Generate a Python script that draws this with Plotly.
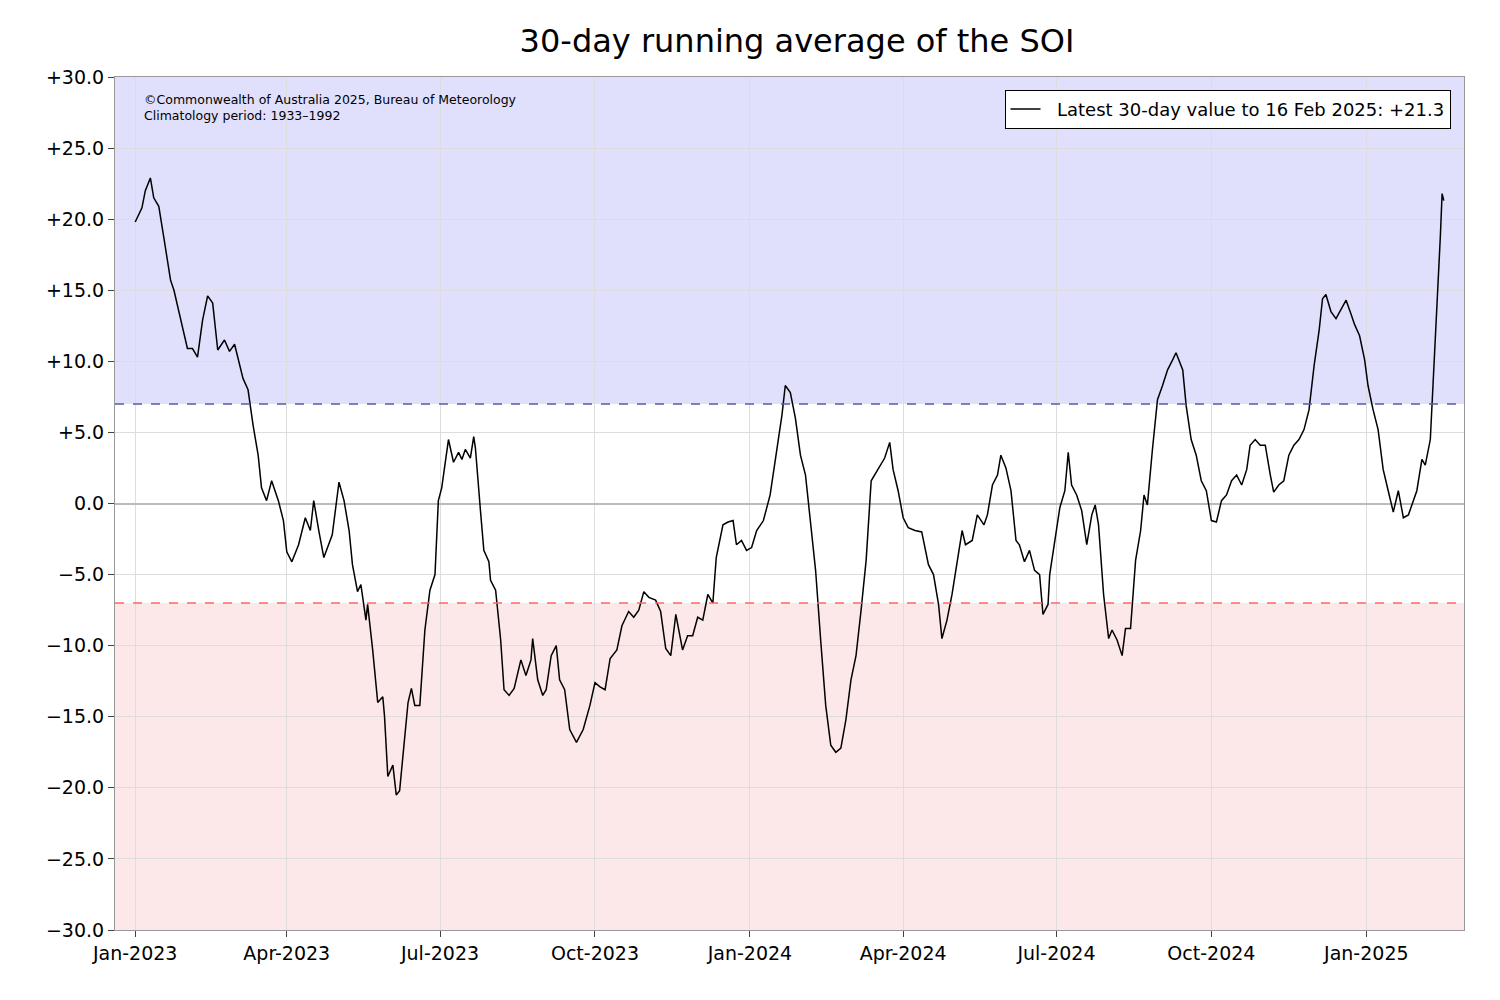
import pandas as pd
import plotly.graph_objects as go

# days since 2023-01-01 and 30-day SOI values
day_offsets = [0, 4, 6, 9, 11, 14, 17, 21, 23, 27, 31, 34, 37, 40, 43, 46, 49, 53, 56, 59,
               64, 67, 70, 73, 75, 78, 81, 85, 88, 90, 93, 97, 101, 104, 106, 109, 112, 117, 121, 124,
               127, 129, 132, 134, 137, 138, 141, 144, 147, 148, 150, 153, 155, 157, 159, 162, 164, 166, 169, 172,
               175, 178, 180, 182, 186, 189, 192, 194, 196, 199, 201, 202, 205, 207, 210, 211, 214, 217, 219, 222,
               225, 229, 232, 235, 236, 239, 242, 244, 247, 250, 252, 255, 258, 262, 266, 270, 273, 276, 279, 282,
               286, 289, 293, 296, 299, 302, 305, 309, 312, 315, 318, 321, 325, 328, 331, 334, 337, 340, 343, 345,
               349, 352, 355, 357, 360, 363, 366, 369, 373, 377, 381, 384, 386, 389, 392, 395, 398, 401, 404, 407,
               410, 413, 416, 419, 422, 425, 428, 431, 434, 437, 440, 442, 445, 448, 450, 453, 456, 459, 463, 467,
               471, 474, 477, 479, 482, 485, 488, 491, 493, 497, 500, 504, 506, 509, 512, 514, 517, 520, 523, 525,
               528, 531, 534, 537, 539, 542, 543, 546, 549, 552, 554, 556, 559, 562, 565, 568, 570, 572, 575, 578,
               580, 583, 586, 588, 591, 594, 597, 599, 601, 604, 607, 610, 613, 616, 618, 622, 624, 627, 630, 633,
               636, 639, 642, 645, 648, 651, 654, 657, 660, 662, 665, 668, 671, 674, 676, 679, 682, 685, 688, 691,
               694, 697, 700, 703, 705, 707, 710, 713, 716, 719, 722, 724, 727, 730, 732, 735, 738, 741, 744, 747,
               750, 753, 756, 758, 761, 764, 766, 769, 771, 774, 775, 776, 777]
soi_values = [19.8, 20.8, 22.0, 22.9, 21.5, 20.9, 18.7, 15.7, 15.0, 13.0, 10.9, 10.9, 10.3, 12.9, 14.6, 14.1, 10.8, 11.5, 10.7, 11.2,
              8.8, 8.0, 5.5, 3.4, 1.1, 0.2, 1.6, 0.2, -1.2, -3.4, -4.1, -2.9, -1.0, -1.9, 0.2, -1.9, -3.8, -2.2, 1.5, 0.2,
              -1.9, -4.3, -6.2, -5.7, -8.2, -7.1, -10.3, -14.0, -13.6, -14.9, -19.2, -18.4, -20.5, -20.2, -17.5, -14.0, -13.0, -14.2, -14.2, -8.9,
              -6.1, -5.0, 0.2, 1.1, 4.5, 2.9, 3.6, 3.1, 3.8, 3.2, 4.7, 3.9, -0.5, -3.3, -4.1, -5.4, -6.1, -9.6, -13.1, -13.5,
              -13.0, -11.0, -12.1, -11.0, -9.5, -12.4, -13.5, -13.1, -10.7, -10.0, -12.4, -13.1, -15.9, -16.8, -15.9, -14.2, -12.6, -12.9, -13.1, -10.9,
              -10.3, -8.6, -7.6, -8.0, -7.5, -6.2, -6.6, -6.8, -7.6, -10.2, -10.7, -7.8, -10.3, -9.3, -9.3, -8.0, -8.2, -6.4, -7.0, -3.8,
              -1.5, -1.3, -1.2, -2.9, -2.6, -3.3, -3.1, -1.9, -1.2, 0.6, 3.8, 6.2, 8.3, 7.8, 6.0, 3.4, 2.0, -1.2, -4.7, -9.6,
              -14.2, -17.0, -17.5, -17.2, -15.2, -12.4, -10.7, -7.5, -4.0, 1.6, 2.2, 2.7, 3.2, 4.3, 2.4, 0.9, -1.0, -1.7, -1.9, -2.0,
              -4.3, -5.0, -7.1, -9.5, -8.2, -6.4, -4.3, -1.9, -2.9, -2.6, -0.8, -1.5, -0.8, 1.3, 2.0, 3.4, 2.5, 0.9, -2.6, -2.9,
              -4.1, -3.3, -4.7, -5.0, -7.8, -7.1, -5.0, -2.6, -0.3, 0.9, 3.6, 1.3, 0.6, -0.5, -2.9, -0.8, -0.1, -1.5, -6.4, -9.5,
              -8.9, -9.6, -10.7, -8.8, -8.8, -4.0, -1.9, 0.6, -0.1, 3.8, 7.3, 8.3, 9.4, 10.1, 10.6, 9.4, 6.9, 4.5, 3.4, 1.6,
              0.9, -1.2, -1.3, 0.2, 0.6, 1.6, 2.0, 1.3, 2.4, 4.1, 4.5, 4.1, 4.1, 2.0, 0.8, 1.3, 1.6, 3.4, 4.1, 4.5,
              5.2, 6.6, 9.7, 12.2, 14.4, 14.7, 13.5, 13.0, 13.7, 14.3, 13.3, 12.6, 11.8, 10.1, 8.3, 6.6, 5.2, 2.4, 0.9, -0.6,
              0.9, -1.0, -0.8, -0.1, 0.9, 3.1, 2.7, 4.5, 9.4, 15.7, 18.9, 21.8, 21.3]

y_ticks = [30, 25, 20, 15, 10, 5, 0, -5, -10, -15, -20, -25, -30]
y_labels = ["+30.0", "+25.0", "+20.0", "+15.0", "+10.0", "+5.0", "0.0",
            "\u22125.0", "\u221210.0", "\u221215.0", "\u221220.0", "\u221225.0", "\u221230.0"]
x_ticks = ["2023-01-01", "2023-04-01", "2023-07-01", "2023-10-01", "2024-01-01",
           "2024-04-01", "2024-07-01", "2024-10-01", "2025-01-01"]
x_labels = ["Jan-2023", "Apr-2023", "Jul-2023", "Oct-2023", "Jan-2024",
            "Apr-2024", "Jul-2024", "Oct-2024", "Jan-2025"]

dates = pd.Timestamp("2023-01-01") + pd.to_timedelta(day_offsets, unit="D")

fig = go.Figure()
fig.add_trace(go.Scatter(x=dates, y=soi_values, mode="lines",
                         line=dict(color="black", width=1.5),
                         name="  Latest 30-day value to 16 Feb 2025: +21.3"))

# shaded bands and thresholds
fig.add_shape(type="rect", xref="paper", x0=0, x1=1, yref="y", y0=7, y1=30,
              fillcolor="#e0e0fd", line_width=0, layer="below")
fig.add_shape(type="rect", xref="paper", x0=0, x1=1, yref="y", y0=-30, y1=-7,
              fillcolor="#fde8e9", line_width=0, layer="below")
fig.add_shape(type="line", xref="paper", x0=0, x1=1, y0=7, y1=7,
              line=dict(color="#5a5aaa", width=1.5, dash="dash"))
fig.add_shape(type="line", xref="paper", x0=0, x1=1, y0=-7, y1=-7,
              line=dict(color="#ff6666", width=1.5, dash="dash"))

fig.add_annotation(xref="paper", yref="paper", x=0.02, y=0.985, xanchor="left", yanchor="top",
                   align="left", showarrow=False, font=dict(size=12.5, color="black"),
                   text="\u00a9Commonwealth of Australia 2025, Bureau of Meteorology<br>Climatology period: 1933\u20131992")

fig.update_layout(
    width=1500, height=1000,
    title=dict(text="30-day running average of the SOI", x=0.526, y=0.967, xanchor="center",
               yanchor="middle", font=dict(size=32, color="black")),
    font=dict(family="DejaVu Sans", size=19, color="black"),
    plot_bgcolor="white", paper_bgcolor="white",
    margin=dict(l=107, r=44, t=69, b=78),
    showlegend=True,
    legend=dict(x=0.99, y=0.985, xanchor="right", yanchor="top", bgcolor="white",
                bordercolor="black", borderwidth=1, font=dict(size=18)),
    xaxis=dict(range=["2022-12-20", "2025-02-28"], tickvals=x_ticks, ticktext=x_labels,
               showgrid=True, gridcolor="#dddddd", ticks="outside", ticklen=6,
               showline=True, linecolor="#999999", mirror=True, layer="above traces"),
    yaxis=dict(range=[-30, 30], tickvals=y_ticks, ticktext=y_labels,
               showgrid=True, gridcolor="#dddddd", zeroline=True, zerolinecolor="#bbbbbb",
               zerolinewidth=1.5, ticks="outside", ticklen=6,
               showline=True, linecolor="#999999", mirror=True),
)

fig.write_html("out.html")
